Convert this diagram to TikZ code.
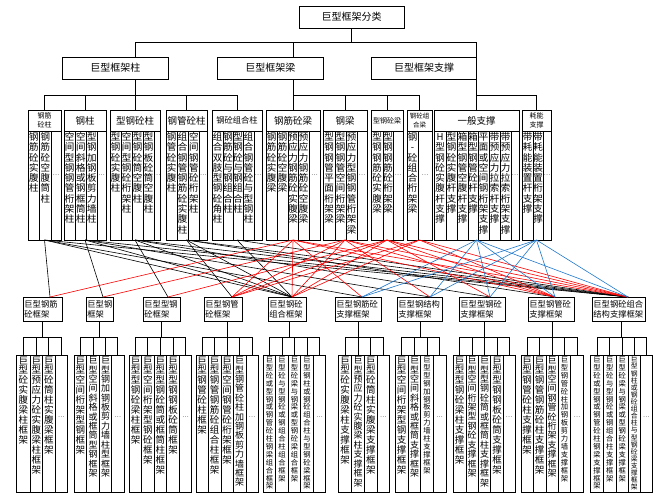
\documentclass[tikz,border=0pt]{standalone}
\usepackage{fontspec}
\setmainfont{Noto Sans CJK SC}
\ExplSyntaxOn
\NewDocumentCommand\vt{mm}{
  \vbox{\offinterlineskip
    \tl_map_inline:nn {#2}
      {\hbox~to~1em{\vrule~height~\dimexpr #1pt*8/10\relax~depth~\dimexpr #1pt*2/10\relax~width~0pt\hss ##1\hss}}}
}
\ExplSyntaxOff
\definecolor{cblue}{RGB}{30,120,205}
\tikzset{
 boxst/.style={draw, line width=0.8pt, inner sep=0pt, outer sep=0pt, align=center},
 colst/.style={draw, line width=0.7pt, inner sep=0pt, outer sep=0pt},
 treeln/.style={line width=0.8pt},
 blkln/.style={line width=0.6pt, black},
 redln/.style={line width=0.6pt, red},
 bluln/.style={line width=0.6pt, cblue},
}
\newcommand\rbox[7]{\node[#6, minimum width={(#4-#2)*1pt}, minimum height={(#5-#3)*1pt}] (#1) at ({(#2+#4)/2},{(#3+#5)/2}) {#7};}
\newcommand\vcol[8]{\rbox{#1}{#2}{#3}{#4}{#5}{colst}{}\node[anchor=north, inner sep=0pt, font=\fontsize{#6}{#6}\selectfont] (#1t) at ([yshift=-1pt]#1.north) {\vt{#7}{#8}};}
\newcommand\dcol[6]{\rbox{#1}{#2}{#3}{#4}{#5}{colst}{}\node[inner sep=0pt, font=\fontsize{6}{6}\selectfont] (#1t) at ({(#2+#4)/2},#6) {…};}
\newcommand\lthr[4]{\vcol{#1}{#2}{131}{#3}{240}{9.5}{10.3}{#4}}
\newcommand\lthrd[3]{\dcol{#1}{#2}{131}{#3}{240}{175}}
\newcommand\lfv[6]{\vcol{#1}{#2}{355}{#3}{492}{#4}{#5}{#6}}
\newcommand\lfvd[3]{\dcol{#1}{#2}{355}{#3}{492}{417}}
\newcommand\frm[6]{\rbox{#1}{#2}{297}{#3}{321}{boxst}{}\node[anchor=west, inner sep=0pt, align=left, font=\fontsize{8.3}{10}\selectfont] (#1t) at ([xshift=1.2pt]#1.west) {#4\\#5};\coordinate (#1v) at (#6,337.5);}
\begin{document}
\begin{tikzpicture}[x=1pt,y=-1pt]
\useasboundingbox (0,0) rectangle (663,496);
% ---------- level 1 and 2
\rbox{root}{299}{6}{404}{28}{boxst,font=\fontsize{10}{12}\selectfont}{巨型框架分类}
\rbox{L2a}{62.5}{57}{168}{79}{boxst,font=\fontsize{10}{12}\selectfont}{巨型框架柱}
\rbox{L2b}{217.5}{57}{323}{79}{boxst,font=\fontsize{10}{12}\selectfont}{巨型框架梁}
\rbox{L2c}{371.5}{57}{476.5}{79}{boxst,font=\fontsize{10}{12}\selectfont}{巨型框架支撑}
% ---------- level 3 headers
\rbox{H1}{28}{110}{61}{131}{boxst,font=\fontsize{7}{9}\selectfont}{钢筋\\砼柱}
\rbox{H2}{64}{110}{106}{131}{boxst,font=\fontsize{9.5}{11}\selectfont}{钢柱}
\rbox{H3}{110}{110}{160}{131}{boxst,font=\fontsize{9.5}{11}\selectfont}{型钢砼柱}
\rbox{H4}{166}{110}{207}{131}{boxst,font=\fontsize{9.5}{11}\selectfont}{钢管砼柱}
\rbox{H5}{212}{110}{262}{131}{boxst,font=\fontsize{8.3}{10}\selectfont}{钢砼组合柱}
\rbox{H6}{266}{110}{320}{131}{boxst,font=\fontsize{9.5}{11}\selectfont}{钢筋砼梁}
\rbox{H7}{323}{110}{367}{131}{boxst,font=\fontsize{9.5}{11}\selectfont}{钢梁}
\rbox{H8}{371}{110}{403}{131}{boxst,font=\fontsize{7}{9}\selectfont}{型钢砼梁}
\rbox{H9}{407}{110}{432}{131}{boxst,font=\fontsize{6.5}{8.5}\selectfont}{钢砼组\\合梁}
\rbox{H10}{434}{110}{519}{131}{boxst,font=\fontsize{9.5}{11}\selectfont}{一般支撑}
\rbox{H11}{522}{110}{551}{131}{boxst,font=\fontsize{7}{9}\selectfont}{耗能\\支撑}
% ---------- tree, top part
\draw[treeln] (root.south) -- ++(0,14);
\draw[treeln] (L2a.north -| H3.north) -- ++(0,-15) -| (L2c.north -| H10.north);
\draw[treeln] (L2b.north -| H6.north) -- ++(0,-15);
\draw[treeln] (H1.north) -- ++(0,-15) -| (H5.north);
\foreach \h in {H2,H3,H4} \draw[treeln] (\h.north) -- ++(0,-15);
\draw[treeln] (L2a.south -| H3.north) -- ++(0,16);
\draw[treeln] (H6.north) -- ++(0,-15) -| (H9.north);
\foreach \h in {H7,H8} \draw[treeln] (\h.north) -- ++(0,-15);
\draw[treeln] (L2b.south -| H6.north) -- ++(0,16);
\draw[treeln] (H10.north) -- ++(0,-15) -| (H11.north);
\draw[treeln] (L2c.south -| H10.north) -- ++(0,16);
% ---------- level 3 columns
\lthr{c1a}{28}{39.5}{钢筋砼实腹柱}
\lthr{c1b}{39.5}{51}{钢筋砼空腹筒柱}
\lthrd{c1c}{51}{61}
\lthr{c2a}{64}{75}{空间型钢钢管桁架柱}
\lthr{c2b}{75}{86.5}{空间斜格或钢框筒柱}
\lthr{c2c}{86.5}{97}{型钢加钢板剪力墙柱}
\lthrd{c2d}{97}{106}
\lthr{c3a}{110}{121}{型钢砼实腹柱}
\lthr{c3b}{121}{132}{空间型钢砼桁架柱}
\lthr{c3c}{132}{143}{型钢砼筒空腹柱}
\lthr{c3d}{143}{154}{型钢板砼筒空腹柱}
\lthrd{c3e}{154}{160}
\lthr{c4a}{166}{177}{钢管砼实腹柱}
\lthr{c4b}{177}{188}{组合钢管钢筋砼实腹柱}
\lthr{c4c}{188}{199.5}{空间钢管砼桁架柱}
\lthrd{c4d}{199.5}{207}
\lthr{c5a}{212}{223}{组合双肢型钢砼角柱}
\lthr{c5b}{223}{233}{钢筋砼与钢组合柱}
\lthr{c5c}{233}{243}{型钢砼与钢组合柱}
\lthr{c5d}{243}{254}{组合钢管砼与型钢柱}
\lthrd{c5e}{254}{262}
\lthr{c6a}{266}{277}{钢筋砼实腹梁}
\lthr{c6b}{277}{288}{钢筋砼空腹梁}
\lthr{c6c}{288}{298}{预应力钢筋砼实腹梁}
\lthr{c6d}{298}{309}{预应力钢筋砼空腹梁}
\lthrd{c6e}{309}{320}
\lthr{c7a}{323}{335}{型钢钢管平面桁架梁}
\lthr{c7b}{335}{346}{型钢钢管空间桁架梁}
\lthr{c7c}{346}{357}{预应力型钢钢管桁架梁}
\lthrd{c7d}{357}{367}
\lthr{c8a}{371}{383}{型钢钢筋砼实腹梁}
\lthr{c8b}{383}{393}{型钢钢筋砼桁架梁}
\lthrd{c8c}{393}{403}
\lthr{c9a}{407}{418}{钢-砼组合桁架梁}
\lthrd{c9b}{418}{432}
\lthr{c10a}{434}{446}{H型钢砼实腹杆支撑}
\lthr{c10b}{446}{457}{型钢砼实腹杆支撑}
\lthr{c10c}{457}{468}{箱型钢管空腹杆支撑}
\lthr{c10d}{468}{478}{箱型钢管砼杆支撑}
\lthr{c10e}{478}{489}{平面或空间钢桁架支撑}
\lthr{c10f}{489}{500}{带预应力拉索杆支撑}
\lthr{c10g}{500}{511}{带预应力拉索桁架支撑}
\lthrd{c10h}{511}{519}
\lthr{c11a}{522}{533}{带耗能装置杆支撑}
\lthr{c11b}{533}{543}{带耗能装置桁架支撑}
\lthrd{c11c}{543}{551}
% ---------- level 4 boxes
\frm{F1}{23}{62}{巨型钢筋}{砼框架}{42.3}
\frm{F2}{86}{113}{巨型钢}{框架}{99.3}
\frm{F3}{143}{180}{巨型型钢}{砼框架}{161}
\frm{F4}{204}{242}{巨型钢管}{砼框架}{227.7}
\frm{F5}{268}{306}{巨型钢砼}{组合框架}{289.3}
\frm{F6}{335}{381}{巨型钢筋砼}{支撑框架}{358.3}
\frm{F7}{397}{442}{巨型钢结构}{支撑框架}{420.7}
\frm{F8}{459}{505}{巨型型钢砼}{支撑框架}{484}
\frm{F9}{528}{574}{巨型钢管砼}{支撑框架}{552.7}
\frm{F10}{592}{645}{巨型钢砼组合}{结构支撑框架}{621.7}
% ---------- crossing connectors
\coordinate (s1) at (44.5,240);  \coordinate (s2) at (85,240);
\coordinate (s3) at (135,240);   \coordinate (s4) at (186.5,240);
\coordinate (s5) at (237,240);   \coordinate (s6) at (293,240);
\coordinate (s7) at (345,240);   \coordinate (s8) at (387,240);
\coordinate (s9) at (419.5,240); \coordinate (s10) at (476.5,240);
\coordinate (s11) at (536.5,240);
\coordinate (t1) at (50,297);  \coordinate (t2) at (103,297);
\coordinate (t3) at (168,297); \coordinate (t4) at (232,297);
\coordinate (t5) at (292,297); \coordinate (t6) at (362,297);
\coordinate (t7) at (430,297); \coordinate (t8) at (490,297);
\coordinate (t9) at (555,297); \coordinate (t10) at (628,297);
\foreach \a/\b in {s1/t1,s1/t5,s1/t6,s1/t10, s2/t2,s2/t5,s2/t7,s2/t10, s3/t3,s3/t5,s3/t8,s3/t10, s4/t4,s4/t5,s4/t9,s4/t10, s5/t5,s5/t10}
  \draw[blkln] (\a) -- (\b);
\foreach \a/\b in {s6/t1,s6/t4,s6/t5,s6/t6,s6/t9,s6/t10, s7/t2,s7/t4,s7/t5,s7/t7,s7/t9,s7/t10, s8/t3,s8/t4,s8/t5,s8/t8,s8/t9,s8/t10, s9/t4,s9/t5,s9/t9,s9/t10}
  \draw[redln] (\a) -- (\b);
\foreach \a/\b in {s10/t6,s10/t7,s10/t8,s10/t9,s10/t10, s11/t6,s11/t7,s11/t8,s11/t9,s11/t10}
  \draw[bluln] (\a) -- (\b);
% ---------- level 5 columns
\lfv{p1a}{16.7}{30}{9.5}{9.8}{巨型砼实腹梁柱框架}
\lfv{p1b}{30}{42.7}{9.5}{9.8}{巨型预应力砼实腹梁柱框架}
\lfv{p1c}{42.7}{55}{9.5}{9.8}{巨型砼筒柱实腹梁框架}
\lfvd{p1d}{55}{67.7}
\lfv{p2a}{74}{86.7}{9.5}{9.8}{巨型空间桁架型钢框架}
\lfv{p2b}{86.7}{99.3}{9}{9.3}{巨型空间斜格或框筒型钢框架}
\lfv{p2c}{99.3}{111.7}{9}{9.3}{巨型钢加钢板剪力墙柱型框架}
\lfvd{p2d}{111.7}{124}
\lfv{p3a}{129.3}{141.7}{9.5}{9.8}{巨型型钢砼梁柱框架}
\lfv{p3b}{141.7}{154}{9.5}{9.8}{巨型空间桁架型钢砼框架}
\lfv{p3c}{154}{166.7}{9.5}{9.8}{巨型型钢砼筒或框筒柱框架}
\lfv{p3d}{166.7}{179.3}{9.5}{9.8}{巨型型钢钢板砼筒框架}
\lfvd{p3e}{179.3}{191.7}
\lfv{p4a}{196}{208.3}{9.5}{9.8}{巨型钢管砼柱框架}
\lfv{p4b}{208.3}{221}{9.5}{9.8}{巨型钢管钢筋砼组合柱框架}
\lfv{p4c}{221}{233.3}{9.5}{9.8}{巨型空间钢管砼桁架框架}
\lfv{p4d}{233.3}{246}{9}{9.3}{巨型钢管砼柱加钢板剪力墙框架}
\lfvd{p4e}{246}{258.3}
\lfv{p5a}{263.3}{275.7}{7.3}{7.9}{巨型砼或型钢或钢管砼柱钢梁组合框架}
\lfv{p5b}{275.7}{288.3}{7.3}{7.9}{巨型砼与型钢砼或钢组合柱组合框架}
\lfv{p5c}{288.3}{300.7}{7.3}{7.9}{巨型砼梁与钢梁或型钢砼梁组合框架}
\lfv{p5d}{300.7}{313.3}{7.3}{7.9}{巨型钢柱或钢砼组合柱与型钢砼梁框架}
\lfvd{p5e}{313.3}{325.7}
\lfv{p6a}{338.3}{351.7}{9.5}{9.8}{巨型砼实腹梁柱支撑框架}
\lfv{p6b}{351.7}{364.3}{9}{9.3}{巨型预应力砼实腹梁柱支撑框架}
\lfv{p6c}{364.3}{377.3}{9.5}{9.8}{巨型砼筒柱实腹梁支撑框架}
\lfvd{p6d}{377.3}{389.3}
\lfv{p7a}{395}{408.3}{9.5}{9.8}{巨型空间桁架型钢支撑框架}
\lfv{p7b}{408.3}{420.7}{9}{9.3}{巨型空间斜格或框筒支撑框架}
\lfv{p7c}{420.7}{433.3}{7.3}{7.9}{巨型型钢加钢板剪力墙柱支撑框架}
\lfvd{p7d}{433.3}{446}
\lfv{p8a}{453.3}{466}{9.5}{9.8}{巨型型钢砼梁柱支撑框架}
\lfv{p8b}{466}{478.3}{9}{9.3}{巨型空间桁架型钢砼支撑框架}
\lfv{p8c}{478.3}{490.7}{9}{9.3}{巨型型钢砼筒或框筒柱支撑框架}
\lfv{p8d}{490.7}{503.3}{9.5}{9.8}{巨型型钢钢板砼筒支撑框架}
\lfvd{p8e}{503.3}{515}
\lfv{p9a}{521}{533.3}{9.5}{9.8}{巨型钢管砼柱支撑框架}
\lfv{p9b}{533.3}{546}{9.5}{9.8}{巨型钢管钢筋砼柱支撑框架}
\lfv{p9c}{546}{558.3}{9}{9.3}{巨型空间钢管砼桁架支撑框架}
\lfv{p9d}{558.3}{570.7}{7.3}{7.9}{巨型钢管砼柱加钢板剪力墙支撑框架}
\lfvd{p9e}{570.7}{583.3}
\lfv{p10a}{590.7}{603.3}{7.3}{7.9}{巨型砼或型钢或钢管砼柱钢梁支撑框架}
\lfv{p10b}{603.3}{616}{7.3}{7.9}{巨型砼与型钢砼或钢组合柱支撑框架}
\lfv{p10c}{616}{628.3}{7.3}{7.9}{巨型砼梁与钢梁或型钢砼梁支撑框架}
\lfv{p10d}{628.3}{640}{6.8}{7.05}{巨型钢柱或钢砼组合柱与型钢砼梁支撑框架}
\lfvd{p10e}{640}{652.7}
% ---------- level 4 -> 5 trees
\foreach \f/\a/\z/\m in {F1/p1a/p1d/{p1b,p1c}, F2/p2a/p2d/{p2b,p2c}, F3/p3a/p3e/{p3b,p3c,p3d}, F4/p4a/p4e/{p4b,p4c,p4d}, F5/p5a/p5e/{p5b,p5c,p5d}, F6/p6a/p6d/{p6b,p6c}, F7/p7a/p7d/{p7b,p7c}, F8/p8a/p8e/{p8b,p8c,p8d}, F9/p9a/p9e/{p9b,p9c,p9d}, F10/p10a/p10e/{p10b,p10c,p10d}} {
  \draw[treeln] (\a.north) -- ++(0,-17.5) -| (\z.north);
  \foreach \q in \m \draw[treeln] (\q.north) -- ++(0,-17.5);
  \draw[treeln] (\f v |- \f.south) -- (\f v);
}
\end{tikzpicture}
\end{document}
